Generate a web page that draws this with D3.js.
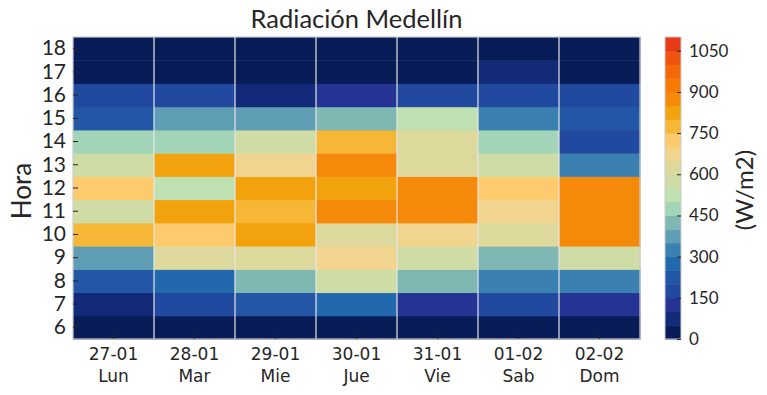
<!DOCTYPE html>
<html>
<head>
<meta charset="utf-8">
<script src="https://cdn.jsdelivr.net/npm/d3@7"></script>
<style>
  body { margin: 0; background: #fff; }
  text { fill: #262626; }
  .xlab { font-family: "DejaVu Sans", sans-serif; font-size: 17px; }
</style>
</head>
<body>
<div id="chart"></div>
<script>
// data
var fechas = ['27-01', '28-01', '29-01', '30-01', '31-01', '01-02', '02-02'];
var dias = ['Lun', 'Mar', 'Mie', 'Jue', 'Vie', 'Sab', 'Dom'];
var horas = [6, 7, 8, 9, 10, 11, 12, 13, 14, 15, 16, 17, 18];

// radiation (W/m2) per day, hours 6..18
var radLun = [25, 75, 225, 375, 775, 575, 725, 575, 475, 225, 175, 25, 25];
var radMar = [25, 175, 275, 625, 725, 825, 525, 825, 475, 375, 175, 25, 25];
var radMie = [25, 225, 425, 625, 825, 775, 825, 675, 575, 375, 75, 25, 25];
var radJue = [25, 275, 575, 675, 625, 875, 825, 875, 775, 425, 125, 25, 25];
var radVie = [25, 125, 425, 575, 675, 875, 875, 625, 625, 525, 175, 25, 25];
var radSab = [25, 175, 325, 425, 625, 675, 725, 575, 475, 325, 175, 75, 25];
var radDom = [25, 125, 325, 575, 875, 875, 875, 325, 175, 225, 175, 25, 25];
var series = [radLun, radMar, radMie, radJue, radVie, radSab, radDom];

var cbTicks = [0, 150, 300, 450, 600, 750, 900, 1050];
var palette = ['#081d58', '#132a78', '#253494', '#2149a0', '#2357a5', '#2168ad',
  '#3a80b0', '#5e9db3', '#7fb8b3', '#a2d4b7', '#bfe0b0', '#cfdca5', '#ddd89b',
  '#f1d58e', '#fdca6e', '#f6b636', '#f2a20c', '#f5890a', '#f77a05', '#f56809',
  '#ef5310', '#e63a18'];

var W = 767, H = 395;
var plot = { left: 73, right: 640, top: 37, bottom: 339 };
var cb = { left: 665, right: 681 };

function translation(x, y) { return 'translate(' + x + ',' + y + ')'; }

var svg = d3.select('#chart').append('svg')
  .attr('width', W).attr('height', H);

var cells = [];
series.forEach(function(vals, i) {
  vals.forEach(function(v, j) { cells.push({ day: fechas[i], hora: horas[j], v: v }); });
});

var x = d3.scaleBand().domain(fechas).range([plot.left, plot.right]);
var y = d3.scaleBand().domain(horas.slice().reverse()).range([plot.top, plot.bottom]);

var bounds = d3.range(50, 1100, 50);
var color = d3.scaleThreshold().domain(bounds).range(palette);

svg.append('g').selectAll('rect')
  .data(cells)
  .enter().append('rect')
    .attr('x', function(d) { return x(d.day); })
    .attr('y', function(d) { return y(d.hora); })
    .attr('width', x.bandwidth() + 0.5)
    .attr('height', y.bandwidth() + 0.5)
    .attr('fill', function(d) { return color(d.v); });

// vertical grid lines between columns
svg.append('g').selectAll('line')
  .data(fechas.slice(1))
  .enter().append('line')
    .attr('x1', function(d) { return x(d); })
    .attr('x2', function(d) { return x(d); })
    .attr('y1', plot.top).attr('y2', plot.bottom)
    .attr('stroke', '#e6e6e6').attr('stroke-width', 1.2);

svg.append('rect')
  .attr('x', plot.left).attr('y', plot.top)
  .attr('width', plot.right - plot.left).attr('height', plot.bottom - plot.top)
  .attr('fill', 'none').attr('stroke', '#cccccc').attr('stroke-width', 1.2);

// y axis
var yAxis = d3.axisLeft(y).tickSizeInner(-5).tickSizeOuter(0).tickPadding(7);
var gy = svg.append('g').attr('transform', translation(plot.left, 0)).call(yAxis);
gy.select('.domain').remove();
gy.selectAll('line').attr('stroke', '#262626');
gy.selectAll('text')
  .style('font-family', 'Lato, sans-serif').style('font-size', '21px').attr('fill', '#262626');

// x axis
var xAxis = d3.axisBottom(x).tickSizeInner(-5).tickSizeOuter(0).tickFormat('');
var gx = svg.append('g').attr('transform', translation(0, plot.bottom)).call(xAxis);
gx.select('.domain').remove();
gx.selectAll('line').attr('stroke', '#262626');

svg.append('g').selectAll('text')
  .data(fechas)
  .enter().append('text')
    .attr('class', 'xlab')
    .attr('x', function(d) { return x(d) + x.bandwidth() / 2; })
    .attr('y', 360)
    .attr('text-anchor', 'middle')
    .text(function(d) { return d; });

svg.append('g').selectAll('text')
  .data(dias)
  .enter().append('text')
    .attr('class', 'xlab')
    .attr('x', function(d, i) { return x(fechas[i]) + x.bandwidth() / 2; })
    .attr('y', 382)
    .attr('text-anchor', 'middle')
    .text(function(d) { return d; });

// axis titles
svg.append('text')
  .attr('transform', translation(31, 191) + 'rotate(-90)')
  .attr('text-anchor', 'middle')
  .style('font-family', 'Lato, sans-serif').style('font-size', '26px')
  .text('Hora');

svg.append('text')
  .attr('x', (plot.left + plot.right) / 2).attr('y', 28)
  .attr('text-anchor', 'middle')
  .style('font-family', 'Lato, sans-serif').style('font-size', '25.5px')
  .text('Radiación Medellín');

// colorbar
var cbScale = d3.scaleLinear().domain([0, 1100]).range([plot.bottom, plot.top]);
svg.append('g').selectAll('rect')
  .data(palette)
  .enter().append('rect')
    .attr('x', cb.left)
    .attr('y', function(d, i) { return cbScale((i + 1) * 50); })
    .attr('width', cb.right - cb.left)
    .attr('height', cbScale(0) - cbScale(50) + 0.5)
    .attr('fill', function(d) { return d; });

svg.append('rect')
  .attr('x', cb.left).attr('y', plot.top)
  .attr('width', cb.right - cb.left).attr('height', plot.bottom - plot.top)
  .attr('fill', 'none').attr('stroke', '#cccccc').attr('stroke-width', 1);

var cbAxis = d3.axisRight(cbScale).tickValues(cbTicks).tickFormat(d3.format('d'))
  .tickSizeInner(-4).tickSizeOuter(0).tickPadding(8);
var gc = svg.append('g').attr('transform', translation(cb.right, 0)).call(cbAxis);
gc.select('.domain').remove();
gc.selectAll('line').attr('stroke', '#262626');
gc.selectAll('text')
  .style('font-family', 'Lato, sans-serif').style('font-size', '17px').attr('fill', '#262626');

svg.append('text')
  .attr('transform', translation(753, 190) + 'rotate(-90)')
  .attr('text-anchor', 'middle')
  .style('font-family', 'Lato, sans-serif').style('font-size', '24px')
  .text('(W/m2)');
</script>
</body>
</html>
